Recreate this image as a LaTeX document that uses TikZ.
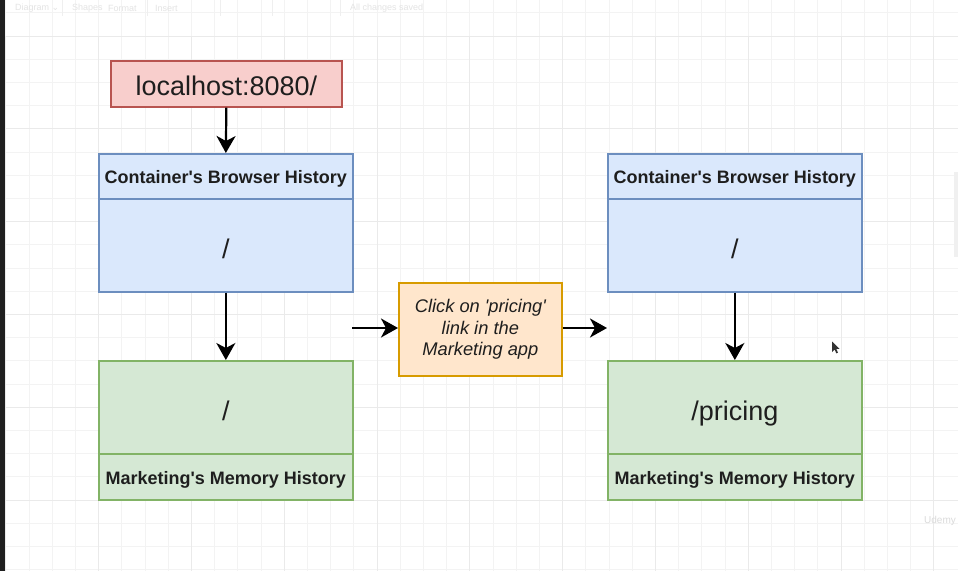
\documentclass[tikz,border=0pt]{standalone}
\usepackage{fontspec}
\setmainfont{Liberation Sans}
\newfontfamily\symfont{DejaVu Sans}
\usetikzlibrary{arrows.meta}
\definecolor{bluefill}{HTML}{DAE8FC}
\definecolor{blueline}{HTML}{6C8EBF}
\definecolor{greenfill}{HTML}{D5E8D4}
\definecolor{greenline}{HTML}{82B366}
\definecolor{redfill}{HTML}{F8CECC}
\definecolor{redline}{HTML}{B85450}
\definecolor{orangefill}{HTML}{FFE6CC}
\definecolor{orangeline}{HTML}{D79B00}
\definecolor{gridminor}{HTML}{F3F3F3}
\definecolor{gridmajor}{HTML}{EAEAEA}
\definecolor{uitext}{HTML}{E4E4E4}
\definecolor{txt}{HTML}{1E1E1E}
\tikzset{
  box/.style={draw, line width=1.7pt, inner sep=0pt, anchor=north west, text=txt},
  bluebox/.style={box, fill=bluefill, draw=blueline},
  greenbox/.style={box, fill=greenfill, draw=greenline},
  bigtext/.style={font=\fontsize{27}{32}\selectfont, text height=25.7pt, text depth=0.4pt},
  headtext/.style={font=\fontsize{18}{21}\selectfont\bfseries, text height=16pt, text depth=1pt},
  arr/.style={line width=2.2pt, draw=black, -{Stealth[length=17pt,width=19pt,inset=5pt]}},
  uilabel/.style={text=uitext, font=\fontsize{9}{11}\selectfont, anchor=west, inner sep=0pt}
}
\begin{document}
\begin{tikzpicture}[x=1pt,y=-1pt]
\useasboundingbox (0,0) rectangle (958,571);
\fill[white] (0,0) rectangle (958,571);
% grid
\foreach \k in {0,...,40} {
  \pgfmathsetmacro{\gx}{5.8+23.2*\k}
  \draw[gridminor, line width=0.8pt] (\gx,0) -- (\gx,571);
}
\foreach \k in {0,...,24} {
  \pgfmathsetmacro{\gy}{12.8+23.2*\k}
  \draw[gridminor, line width=0.8pt] (0,\gy) -- (958,\gy);
}
\foreach \k in {0,...,10} {
  \pgfmathsetmacro{\gx}{5.8+92.8*\k}
  \draw[gridmajor, line width=0.9pt] (\gx,36) -- (\gx,571);
}
\foreach \k in {0,...,6} {
  \pgfmathsetmacro{\gy}{36+92.8*\k}
  \draw[gridmajor, line width=0.9pt] (0,\gy) -- (958,\gy);
}
% left dark strip and scrollbar
\fill[black!88] (0,0) rectangle (5,571);
\fill[black!6] (954,172) rectangle (958,257);
% toolbar (faint)
\node[uilabel] (tbdiagram) at (15,8) {Diagram {\symfont ⌄}};
\node[uilabel] (tbshapes) at (72,8) {Shapes};
\node[uilabel] (tbformat) at (108,8) {Format};
\node[uilabel] (tbinsert) at (155,8) {Insert};
\node[uilabel] (tbsaved) at (350,8) {All changes saved};
\foreach \sx in {62,147,220,272,340} { \draw[uitext!60, line width=0.6pt] (\sx,0) -- (\sx,16); }
% localhost box
\node[box, fill=redfill, draw=redline, minimum width=231pt, minimum height=46pt, bigtext, text height=23pt] (loc) at (110,60) {localhost:8080/};
% left column
\node[bluebox, minimum width=254pt, minimum height=45pt, headtext] (lbh) at (98,153) {Container\textquotesingle s Browser History};
\node[bluebox, minimum width=254pt, minimum height=93pt, bigtext] (lbb) at (98,198) {/};
\node[greenbox, minimum width=254pt, minimum height=93pt, bigtext] (lgb) at (98,360) {/};
\node[greenbox, minimum width=254pt, minimum height=46pt, headtext] (lgf) at (98,453) {Marketing\textquotesingle s Memory History};
% right column
\node[bluebox, minimum width=254pt, minimum height=45pt, headtext] (rbh) at (607,153) {Container\textquotesingle s Browser History};
\node[bluebox, minimum width=254pt, minimum height=93pt, bigtext] (rbb) at (607,198) {/};
\node[greenbox, minimum width=254pt, minimum height=93pt, bigtext] (rgb) at (607,360) {/pricing};
\node[greenbox, minimum width=254pt, minimum height=46pt, headtext] (rgf) at (607,453) {Marketing\textquotesingle s Memory History};
% middle box
\node[box, fill=orangefill, draw=orangeline, minimum width=163pt, minimum height=93pt,
      align=center, font=\fontsize{18.3}{21.5}\selectfont\itshape] (click) at (398,282)
      {\rule{0pt}{4pt}Click on \textquotesingle pricing\textquotesingle\\link in the\\Marketing app};
% connectors
\coordinate (mstart) at (352,328);
\coordinate (mend) at (607,328);
\draw[arr] (loc.south) -- (lbh.north);
\draw[arr] (lbb.south) -- (lgb.north);
\draw[arr] (rbb.south) -- (rgb.north);
\draw[arr] (mstart) -- (click.west |- mstart);
\draw[arr] (click.east |- mend) -- (mend);
% mouse cursor
\fill[black!80] (832,341.5) -- (832,352) -- (834.6,349.6) -- (836.4,353.4) -- (838,352.6) -- (836.3,349) -- (839.5,348.8) -- cycle;
% watermark
\node[text=black!14, font=\fontsize{10}{12}\selectfont, inner sep=0pt] (wm) at (940,521) {Udemy};
\end{tikzpicture}
\end{document}
